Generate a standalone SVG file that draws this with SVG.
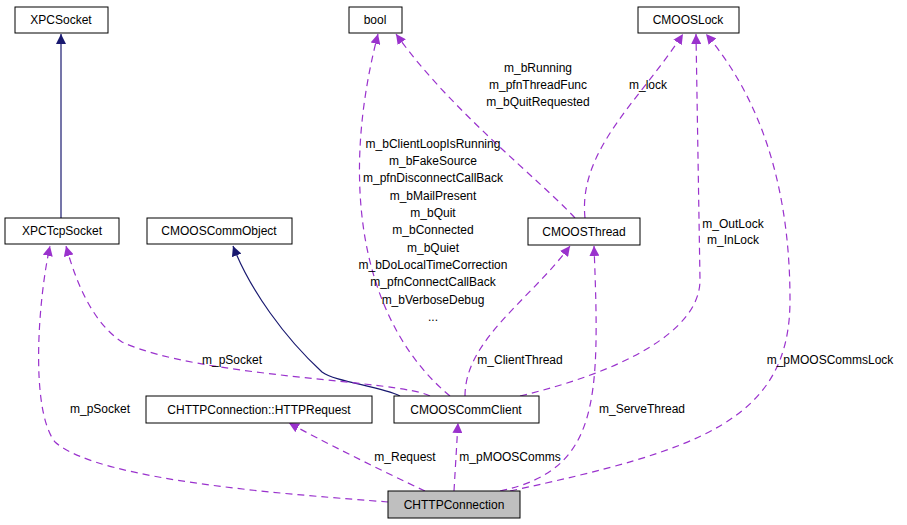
<svg xmlns="http://www.w3.org/2000/svg" width="907" height="525" viewBox="0 0 907 525">
<style>
.n rect{fill:#fff;stroke:#000;stroke-width:1}
text{font-family:"Liberation Sans",Arial,sans-serif;font-size:12px;fill:#000;text-anchor:middle}
.d{fill:none;stroke:#9a32cd;stroke-dasharray:7,5;stroke-width:1.2;marker-end:url(#ap)}
.s{fill:none;stroke:#191970;stroke-width:1.2;marker-end:url(#an)}
</style>
<defs>
<marker id="ap" viewBox="0 0 10 10" refX="10" refY="5" markerWidth="10" markerHeight="10" markerUnits="userSpaceOnUse" orient="auto"><path d="M0,0L10,5L0,10z" fill="#9a32cd"/></marker>
<marker id="an" viewBox="0 0 10 10" refX="10" refY="5" markerWidth="10" markerHeight="10" markerUnits="userSpaceOnUse" orient="auto"><path d="M0,0L10,5L0,10z" fill="#191970"/></marker>
</defs>
<rect width="907" height="525" fill="#fff"/>
<g id="connectors">
<path class="s" d="M61,218 L61,34"/>
<path class="s" d="M400,396 C380,386 335,382 322,372 C285,338 250,290 233,246"/>
<path class="d" d="M388,502 C300,495 100,482 55,442 C30,410 38,300 50,246"/>
<path class="d" d="M430,396 C400,380 200,378 122,342 C92,322 76,282 66,246"/>
<path class="d" d="M450,396 C370,330 335,200 378,34"/>
<path class="d" d="M575,218 C540,180 450,110 396,34"/>
<path class="d" d="M585,218 C578,150 640,100 683,34"/>
<path class="d" d="M520,396 C620,372 700,332 700,280 L696,34"/>
<path class="d" d="M465,396 C465,340 530,300 570,246"/>
<path class="d" d="M500,491 C600,470 600,400 594,246"/>
<path class="d" d="M510,491 C700,450 790,420 790,300 C790,160 745,80 706,34"/>
<path class="d" d="M425,491 C380,470 320,440 289,423"/>
<path class="d" d="M454,491 L458,423"/>
<text x="100" y="413">m_pSocket</text>
<text x="232" y="364">m_pSocket</text>
<text x="433" y="148">m_bClientLoopIsRunning</text>
<text x="433" y="165">m_bFakeSource</text>
<text x="433" y="182">m_pfnDisconnectCallBack</text>
<text x="433" y="200">m_bMailPresent</text>
<text x="433" y="217">m_bQuit</text>
<text x="433" y="234">m_bConnected</text>
<text x="433" y="252">m_bQuiet</text>
<text x="433" y="269">m_bDoLocalTimeCorrection</text>
<text x="433" y="286">m_pfnConnectCallBack</text>
<text x="433" y="304">m_bVerboseDebug</text>
<text x="433" y="321">...</text>
<text x="538" y="72">m_bRunning</text>
<text x="538" y="89">m_pfnThreadFunc</text>
<text x="538" y="106">m_bQuitRequested</text>
<text x="648" y="89">m_lock</text>
<text x="733" y="228">m_OutLock</text>
<text x="733" y="244">m_InLock</text>
<text x="520" y="364">m_ClientThread</text>
<text x="642" y="413">m_ServeThread</text>
<text x="830" y="364">m_pMOOSCommsLock</text>
<text x="405" y="461">m_Request</text>
<text x="510" y="461">m_pMOOSComms</text>
</g>
<g id="XPCSocket" class="n"><rect x="15" y="7" width="93" height="26"/><text x="61" y="24">XPCSocket</text></g>
<g id="bool" class="n"><rect x="349" y="7" width="53" height="26"/><text x="375" y="24">bool</text></g>
<g id="CMOOSLock" class="n"><rect x="638" y="7" width="101" height="26"/><text x="688" y="24">CMOOSLock</text></g>
<g id="XPCTcpSocket" class="n"><rect x="5" y="218" width="114" height="26"/><text x="62" y="235">XPCTcpSocket</text></g>
<g id="CMOOSCommObject" class="n"><rect x="147" y="218" width="145" height="26"/><text x="219" y="235">CMOOSCommObject</text></g>
<g id="CMOOSThread" class="n"><rect x="528" y="218" width="112" height="27"/><text x="584" y="236">CMOOSThread</text></g>
<g id="HTTPRequest" class="n"><rect x="146" y="396" width="226" height="27"/><text x="259" y="414">CHTTPConnection::HTTPRequest</text></g>
<g id="CMOOSCommClient" class="n"><rect x="394" y="396" width="145" height="27"/><text x="466" y="414">CMOOSCommClient</text></g>
<g id="CHTTPConnection" class="n"><rect x="388" y="491" width="132" height="27" style="fill:#bfbfbf"/><text x="454" y="509">CHTTPConnection</text></g>
</svg>
